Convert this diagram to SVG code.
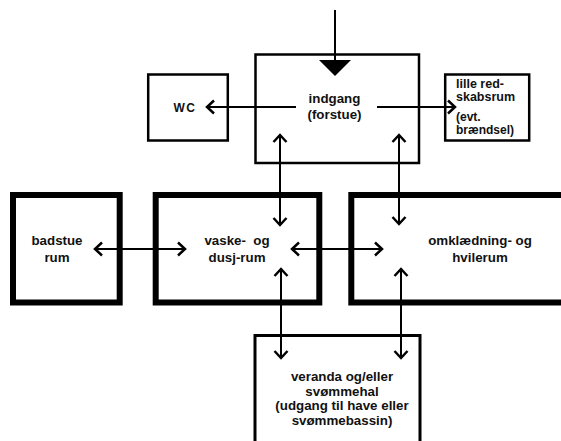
<svg xmlns="http://www.w3.org/2000/svg" width="561" height="441" viewBox="0 0 561 441">
<style>
.thin{fill:#fff;stroke:#000;stroke-width:2.5}
.thick{fill:#fff;stroke:#000;stroke-width:6}
.lbl{font-family:"Liberation Sans",Arial,sans-serif;font-weight:bold;font-size:13.33px;fill:#111}
.c{text-anchor:middle}
.conn line{stroke:#000;stroke-width:2}
</style>
<defs>
<marker id="ah" viewBox="-10 -8 12 16" markerWidth="12" markerHeight="16" refX="0" refY="0" orient="auto-start-reverse" markerUnits="userSpaceOnUse">
<path d="M-7,-6.5 L0,0 L-7,6.5" fill="none" stroke="#000" stroke-width="2.5"/>
</marker>
</defs>
<rect width="561" height="441" fill="#fff"/>
<g id="wc">
<rect class="thin" x="148.2" y="74.5" width="79.6" height="66"/>
<text class="lbl c" x="185" y="112" style="font-size:12px;letter-spacing:1.5px">WC</text>
</g>
<g id="indgang">
<rect class="thin" x="255.5" y="54.5" width="163.5" height="108.5"/>
<text class="lbl c" x="334.5" y="103">indgang</text>
<text class="lbl c" x="334.5" y="119">(forstue)</text>
</g>
<g id="lille">
<rect class="thin" x="445.2" y="74.5" width="84" height="66"/>
<text class="lbl" x="456" y="87.5" style="font-size:12.5px">lille red-</text>
<text class="lbl" x="456" y="100.5" style="font-size:12.5px">skabsrum</text>
<text class="lbl" x="456" y="121" style="font-size:12px">(evt.</text>
<text class="lbl" x="456" y="134" style="font-size:12px">brændsel)</text>
</g>
<g id="badstue">
<rect class="thick" x="13" y="195" width="106.7" height="107.5"/>
<text class="lbl c" x="57" y="245">badstue</text>
<text class="lbl c" x="57" y="262">rum</text>
</g>
<g id="vaske">
<rect class="thick" x="155.7" y="195" width="163.6" height="107.5"/>
<text class="lbl c" x="237" y="245" xml:space="preserve">vaske-  og</text>
<text class="lbl c" x="237" y="262">dusj-rum</text>
</g>
<g id="omklaedning">
<rect class="thick" x="351.3" y="195" width="220" height="107.5"/>
<text class="lbl c" x="480" y="245">omklædning- og</text>
<text class="lbl c" x="480" y="262">hvilerum</text>
</g>
<g id="veranda">
<rect class="thin" x="255" y="335.5" width="165" height="120" style="stroke-width:3"/>
<text class="lbl c" x="342" y="381">veranda og/eller</text>
<text class="lbl c" x="342" y="395.5">svømmehal</text>
<text class="lbl c" x="342" y="410">(udgang til have eller</text>
<text class="lbl c" x="342" y="424.5">svømmebassin)</text>
</g>
<g class="conn" id="connectors">
<line x1="335" y1="10" x2="335" y2="61"/>
<polygon points="319,60 351,60 335,76" fill="#000"/>
<line x1="296" y1="107" x2="207" y2="107" marker-end="url(#ah)"/>
<line x1="377" y1="107" x2="455" y2="107" marker-end="url(#ah)"/>
<line x1="280" y1="135" x2="280" y2="225" marker-start="url(#ah)" marker-end="url(#ah)"/>
<line x1="399" y1="135" x2="399" y2="224" marker-start="url(#ah)" marker-end="url(#ah)"/>
<line x1="95" y1="249" x2="185" y2="249" marker-start="url(#ah)" marker-end="url(#ah)"/>
<line x1="292" y1="249" x2="382" y2="249" marker-start="url(#ah)" marker-end="url(#ah)"/>
<line x1="281" y1="269" x2="281" y2="358" marker-start="url(#ah)" marker-end="url(#ah)"/>
<line x1="401" y1="269" x2="401" y2="358" marker-start="url(#ah)" marker-end="url(#ah)"/>
</g>
</svg>
